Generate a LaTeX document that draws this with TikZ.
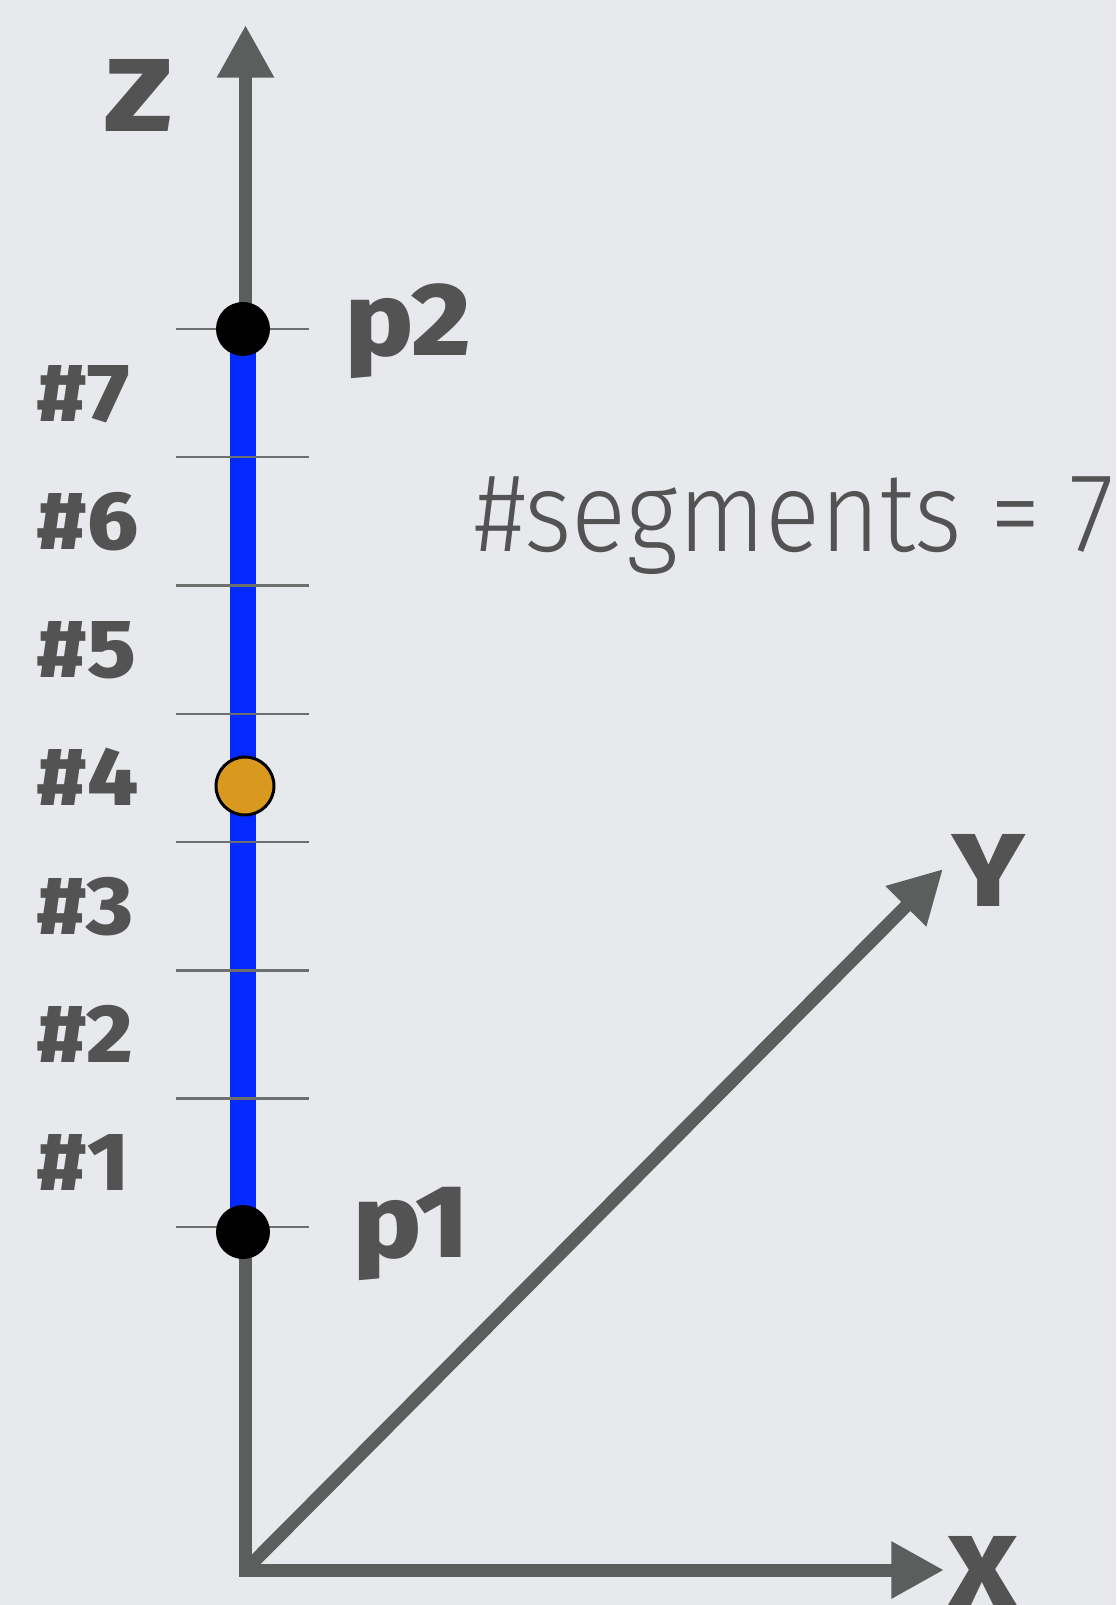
\documentclass[tikz,border=0pt]{standalone}
\usepackage{fontspec}
\setmainfont{Fira Sans}[BoldFont=* ExtraBold]
\newfontfamily\lightfont{Fira Sans Light}
\usetikzlibrary{arrows.meta}
\definecolor{sfondo}{RGB}{231,233,236}
\definecolor{grigioasse}{RGB}{91,94,93}
\definecolor{grigiotesto}{RGB}{83,83,83}
\definecolor{grigiotacca}{RGB}{110,112,112}
\definecolor{segblu}{RGB}{3,41,255}
\definecolor{arancio}{RGB}{217,152,30}
\tikzset{
  punta/.tip={Triangle[length=30pt,width=30.6pt]},
  asse/.style={line width=7.4pt, draw=grigioasse},
  tacca/.style={line width=1.4pt, draw=grigiotacca},
  etichetta/.style={inner sep=0pt, anchor=base west, text=grigiotesto,
    font=\bfseries\fontsize{59}{60}\selectfont},
  numseg/.style={etichetta, font=\bfseries\fontsize{47}{48}\selectfont},
  punto/.style={circle, fill=black, inner sep=0pt, minimum size=1.08cm},
}
\begin{document}
\begin{tikzpicture}[x=0.02cm, y=-0.02cm]
\useasboundingbox[fill=sfondo] (0,0) rectangle (1116,1605);
%--- assi ---
\coordinate (O) at (245.5,1570);
\coordinate (zt) at (245.5,25);
\coordinate (xt) at (944,1570);
\coordinate (yt) at (943,869);
\draw[asse, punta-punta] (zt) -- (O) -- (xt);
\draw[asse, -punta] (O) -- (yt);
\node[etichetta, xscale=1.2] (zlab) at (104,132) {Z};
\node[etichetta, xscale=1.15] (ylab) at (952,906) {Y};
\node[etichetta, xscale=1.15] (xlab) at (947,1608) {X};

%--- segmento da p1 a p2 ---
\coordinate (a) at (243,1232);
\coordinate (b) at (243,329);
\draw[line width=15.3pt, draw=segblu] (a) -- (b);
% tacche
\foreach \i in {0,...,7}{
  \draw[tacca] (176,{1227-\i*128.3}) -- (309,{1227-\i*128.3});
}
% numeri dei segmenti
\foreach \k in {1,...,7}{
  \node[numseg, xscale=1.08] (s\k) at (36,{1227-(\k-0.5)*128.3+28}) {\#\k};
}
\node[punto] (p1) at (a) {};
\node[punto] (p2) at (b) {};
\node[circle, fill=arancio, draw=black, line width=1.7pt, inner sep=0pt,
  minimum size=1.16cm] (q) at (245,786) {};
\node[etichetta, xscale=1.1] (p1lab) at (353,1257) {p1};
\node[etichetta, xscale=1.1] (p2lab) at (345,355) {p2};

%--- numero di segmenti ---
\node[inner sep=0pt, anchor=base west, text=grigiotesto, xscale=0.91,
  font=\lightfont\fontsize{64}{66}\selectfont] (nseg) at (474,551) {\#segments = 7};
\end{tikzpicture}
\end{document}
